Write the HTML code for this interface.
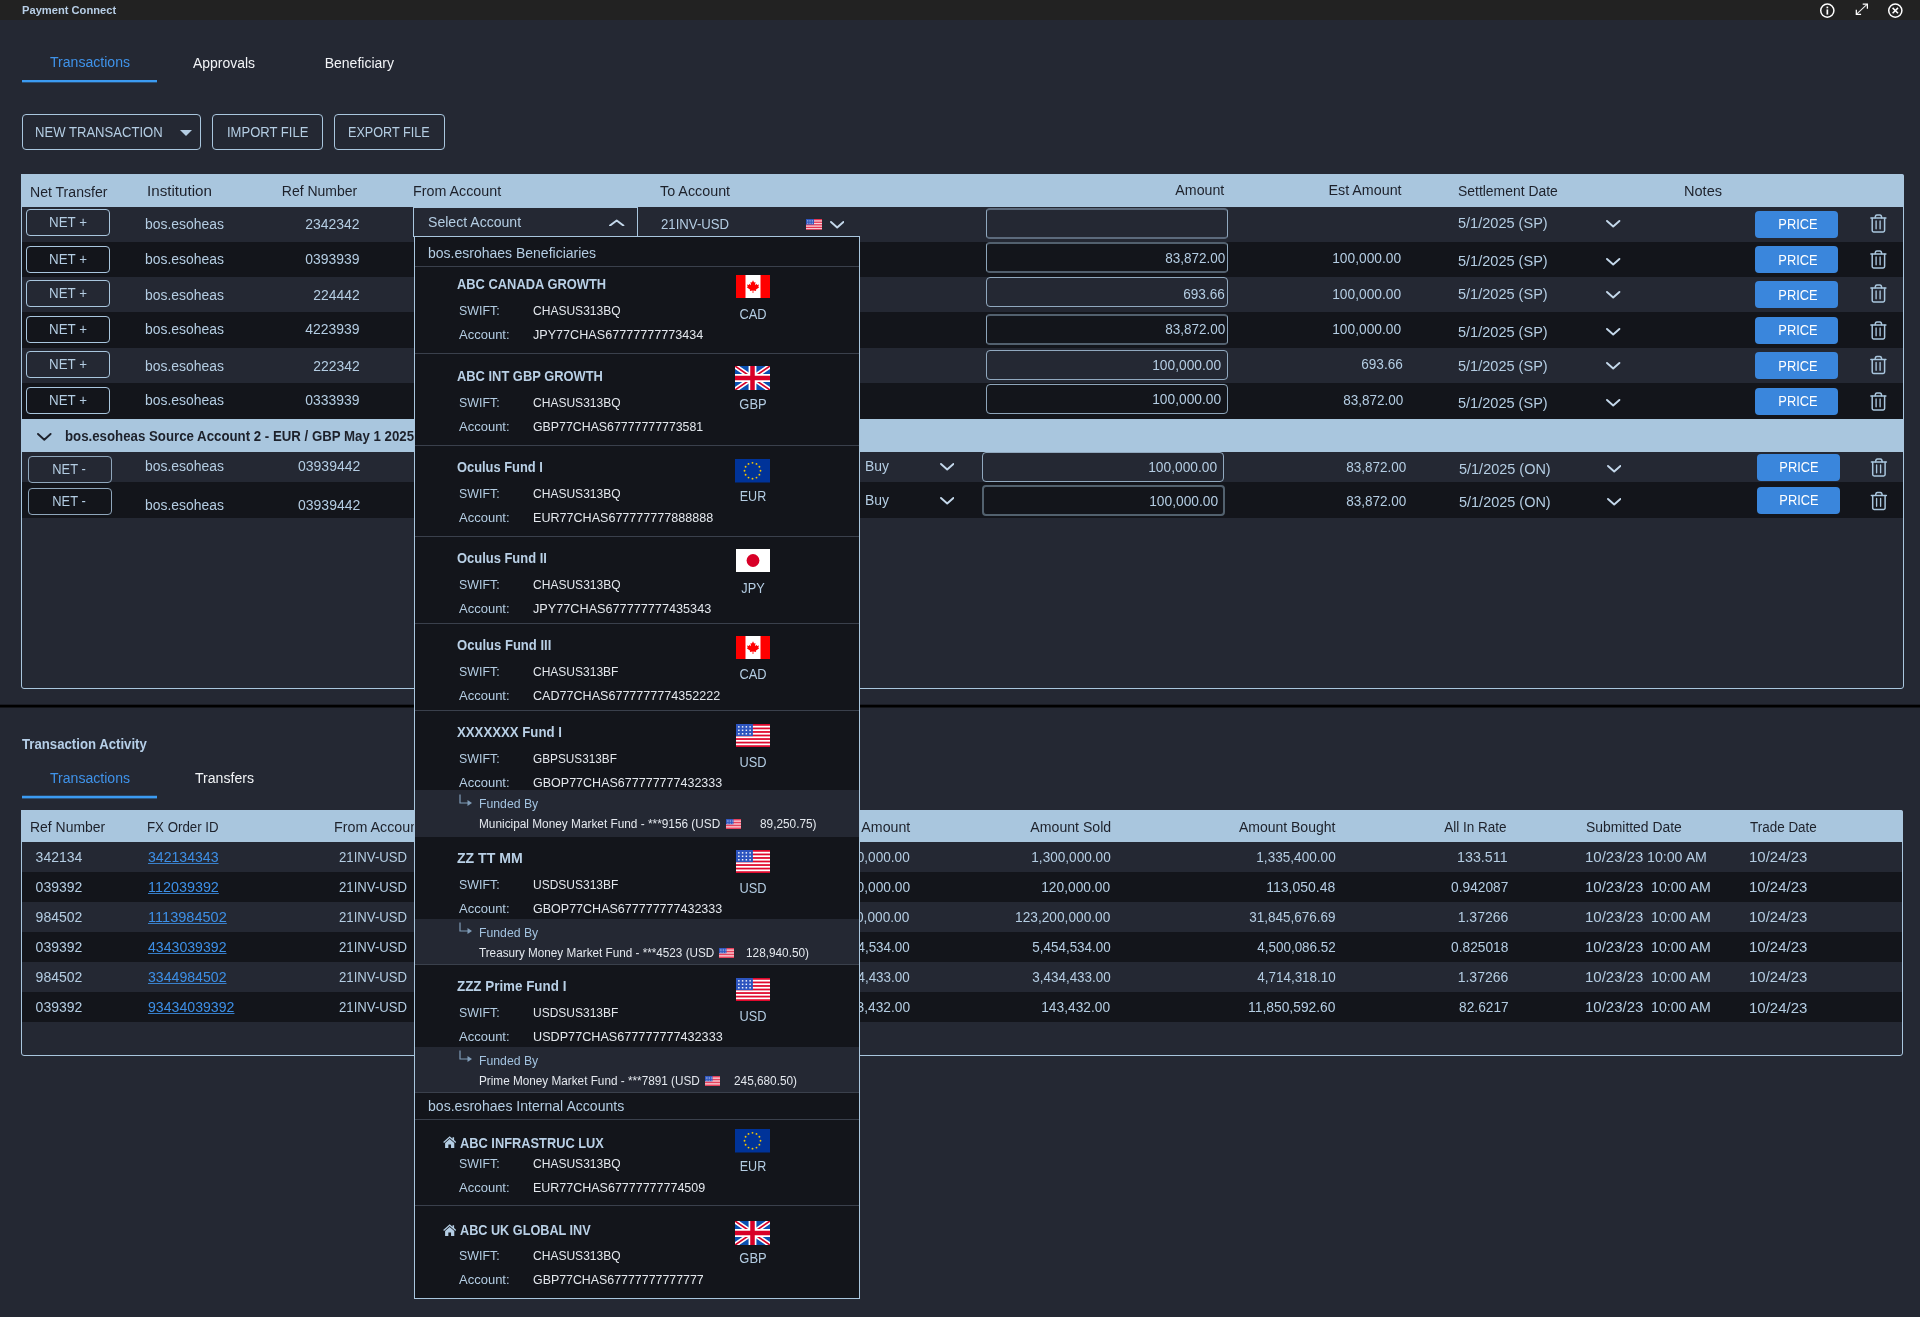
<!DOCTYPE html>
<html lang="en">
<head>
<meta charset="utf-8">
<title>Payment Connect</title>
<style>
html,body{margin:0;padding:0;}
body{width:1920px;height:1317px;overflow:hidden;background:#242833;position:relative;
font-family:"Liberation Sans",sans-serif;}
#app{position:absolute;left:0;top:0;width:1920px;height:1317px;will-change:transform;}
.b{position:absolute;display:block;box-sizing:border-box;}
.t{position:absolute;white-space:nowrap;display:block;}
a.t{cursor:pointer;}
</style>
</head>
<body>
<div id="app">
<div class="b" style="left:0px;top:0px;width:1920px;height:20px;background:#222222;"></div>
<span class="t" style="top:2px;font-size:10.5px;line-height:16px;color:#b7cee6;font-weight:bold;left:21.5px;transform:scaleX(1.0618);transform-origin:left center;">Payment Connect</span>
<svg class="b" style="left:1819px;top:2px" width="17" height="17" viewBox="0 0 17 17"><circle cx="8.3" cy="8.6" r="6.6" fill="none" stroke="#fff" stroke-width="1.5"/><rect x="7.5" y="7.4" width="1.7" height="5.2" fill="#fff"/><rect x="7.5" y="4.6" width="1.7" height="1.7" fill="#fff"/></svg>
<svg class="b" style="left:1854.5px;top:2.6px" width="13.8" height="12.6" viewBox="0 0 15 14"><path d="M1.6 12.4 L13.2 1.6" stroke="#fff" stroke-width="1.15" stroke-opacity="0.92" fill="none"/><path d="M8.4 1.3 H13.6 V6.4" stroke="#fff" stroke-width="1.4" fill="none"/><path d="M1.3 7.6 V12.7 H6.6" stroke="#fff" stroke-width="1.4" fill="none"/></svg>
<svg class="b" style="left:1887px;top:2px" width="17" height="17" viewBox="0 0 17 17"><circle cx="8.3" cy="8.6" r="6.6" fill="none" stroke="#fff" stroke-width="1.5"/><path d="M5.6 5.9 L11 11.3 M11 5.9 L5.6 11.3" stroke="#fff" stroke-width="1.5" fill="none"/></svg>
<span class="t" style="top:52px;font-size:14px;line-height:20px;color:#3f93ea;left:50px;transform:scaleX(1.0047);transform-origin:left center;">Transactions</span>
<div class="b" style="left:22px;top:80px;width:135px;height:2px;background:#3b9bf2;"></div>
<div class="b" style="left:22px;top:82px;width:135px;height:1px;background:rgba(59,155,242,0.35);"></div>
<span class="t" style="top:53px;font-size:14px;line-height:20px;color:#f2f4f7;left:193px;transform:scaleX(0.9959);transform-origin:left center;">Approvals</span>
<span class="t" style="top:53px;font-size:14px;line-height:20px;color:#f2f4f7;left:324.7px;">Beneficiary</span>
<div class="b" style="left:22px;top:114px;width:179px;height:36px;border:1px solid #a9c6de;border-radius:4px;"></div>
<span class="t" style="top:122px;font-size:14px;line-height:20px;color:#b4cde3;left:34.87px;transform:scaleX(0.9349);transform-origin:left center;">NEW TRANSACTION</span>
<svg class="b" style="left:180px;top:130px" width="12" height="6" viewBox="0 0 12 6"><path d="M0 0 H12 L6 6 Z" fill="#b4cde3"/></svg>
<div class="b" style="left:212px;top:114px;width:111px;height:36px;border:1px solid #a9c6de;border-radius:4px;"></div>
<span class="t" style="top:122px;font-size:14px;line-height:20px;color:#b4cde3;left:226.77px;transform:scaleX(0.9316);transform-origin:left center;">IMPORT FILE</span>
<div class="b" style="left:334px;top:114px;width:111px;height:36px;border:1px solid #a9c6de;border-radius:4px;"></div>
<span class="t" style="top:122px;font-size:14px;line-height:20px;color:#b4cde3;left:348.4px;transform:scaleX(0.9024);transform-origin:left center;">EXPORT FILE</span>
<div class="b" style="left:21px;top:174px;width:1883px;height:515px;border:1px solid #a9c6de;border-radius:3px;box-sizing:border-box;"></div>
<div class="b" style="left:21px;top:174px;width:1883px;height:33px;background:#a9c6de;border-radius:0 2px 0 0;"></div>
<span class="t" style="top:182px;font-size:14px;line-height:20px;color:#1d212b;left:29.8px;transform:scaleX(1.005);transform-origin:left center;">Net Transfer</span>
<span class="t" style="top:181px;font-size:14px;line-height:20px;color:#1d212b;left:146.72px;transform:scaleX(1.0836);transform-origin:left center;">Institution</span>
<span class="t" style="top:181px;font-size:14px;line-height:20px;color:#1d212b;left:281.8px;">Ref Number</span>
<span class="t" style="top:181px;font-size:14px;line-height:20px;color:#1d212b;left:412.78px;transform:scaleX(1.0203);transform-origin:left center;">From Account</span>
<span class="t" style="top:181px;font-size:14px;line-height:20px;color:#1d212b;left:660px;transform:scaleX(1.0235);transform-origin:left center;">To Account</span>
<span class="t" style="top:180px;font-size:14px;line-height:20px;color:#1d212b;right:696.11px;transform:scaleX(1.0133);transform-origin:right center;">Amount</span>
<span class="t" style="top:180px;font-size:14px;line-height:20px;color:#1d212b;right:518.11px;transform:scaleX(1.0213);transform-origin:right center;">Est Amount</span>
<span class="t" style="top:181px;font-size:14px;line-height:20px;color:#1d212b;left:1458px;transform:scaleX(0.994);transform-origin:left center;">Settlement Date</span>
<span class="t" style="top:181px;font-size:14px;line-height:20px;color:#1d212b;left:1683.96px;transform:scaleX(1.0401);transform-origin:left center;">Notes</span>
<div class="b" style="left:22px;top:207px;width:1881px;height:35px;background:#242833;"></div>
<div class="b" style="left:22px;top:242px;width:1881px;height:35px;background:#13151b;"></div>
<div class="b" style="left:22px;top:277px;width:1881px;height:35px;background:#242833;"></div>
<div class="b" style="left:22px;top:312px;width:1881px;height:36px;background:#13151b;"></div>
<div class="b" style="left:22px;top:348px;width:1881px;height:35px;background:#242833;"></div>
<div class="b" style="left:22px;top:383px;width:1881px;height:36px;background:#13151b;"></div>
<div class="b" style="left:22px;top:419px;width:1882px;height:33px;background:#a9c6de;"></div>
<svg class="b" style="left:37.4px;top:432.6px" width="14.6" height="8.2" viewBox="0 0 14.6 8.2"><path d="M1 1 L7.3 6.7 L13.6 1" fill="none" stroke="#1d212b" stroke-width="1.9" stroke-linecap="round" stroke-linejoin="round"/></svg>
<span class="t" style="top:426px;font-size:14px;line-height:20px;color:#1d212b;font-weight:bold;left:65px;transform:scaleX(0.9465);transform-origin:left center;">bos.esoheas Source Account 2 - EUR / GBP May 1 2025</span>
<div class="b" style="left:22px;top:452px;width:1881px;height:30px;background:#242833;"></div>
<div class="b" style="left:22px;top:482px;width:1881px;height:36px;background:#13151b;"></div>
<div class="b" style="left:26px;top:208.5px;width:84px;height:27px;border:1px solid #a9c6de;border-radius:4px;box-sizing:border-box;"></div>
<span class="t" style="top:212px;font-size:14px;line-height:20px;color:#b4cde3;left:-32.39px;width:200px;text-align:center;transform:scaleX(0.9514);transform-origin:center center;">NET +</span>
<span class="t" style="top:214px;font-size:14px;line-height:20px;color:#b4cde3;left:144.5px;transform:scaleX(0.9951);transform-origin:left center;">bos.esoheas</span>
<span class="t" style="top:214px;font-size:14px;line-height:20px;color:#b4cde3;right:1560.21px;transform:scaleX(0.9951);transform-origin:right center;">2342342</span>
<div class="b" style="left:986px;top:208px;width:242px;height:31px;border-top:2px solid rgba(169,198,222,0.4264);border-bottom:2px solid rgba(169,198,222,0.4264);border-left:1px solid rgba(169,198,222,0.82);border-right:1px solid rgba(169,198,222,0.82);border-radius:4px;"></div>
<span class="t" style="top:213px;font-size:14px;line-height:20px;color:#b4cde3;left:1458px;transform:scaleX(1.0382);transform-origin:left center;">5/1/2025 (SP)</span>
<svg class="b" style="left:1606.3px;top:220px" width="14.4" height="8" viewBox="0 0 14.4 8"><path d="M1 1 L7.2 6.5 L13.4 1" fill="none" stroke="#c4d8eb" stroke-width="1.9" stroke-linecap="round" stroke-linejoin="round"/></svg>
<div class="b" style="left:1755.4px;top:210.5px;width:83px;height:27px;background:#3a86dc;border-radius:4px;"></div>
<span class="t" style="top:214px;font-size:14px;line-height:20px;color:#ffffff;left:1698.2px;width:200px;text-align:center;transform:scaleX(0.9168);transform-origin:center center;">PRICE</span>
<svg class="b" style="left:1869px;top:213px" width="18" height="20" viewBox="0 0 18 20"><g transform="translate(0.90 0.95)" fill="none" stroke="#a9c6de" stroke-width="1.5" stroke-linejoin="round" stroke-linecap="round"><path d="M1 4 H16"/><path d="M5.2 3.8 C5.4 1.6 5.9 1.1 7 1.1 H10 C11.1 1.1 11.6 1.6 11.8 3.8"/><path d="M2.3 4.2 V16.6 Q2.3 18 3.7 18 H13.3 Q14.7 18 14.7 16.6 V4.2"/><path d="M6.2 7 V14.8 M10.2 7 V14.8" stroke-width="1.35"/></g></svg>
<div class="b" style="left:26px;top:245.5px;width:84px;height:27px;border:1px solid #a9c6de;border-radius:4px;box-sizing:border-box;"></div>
<span class="t" style="top:249px;font-size:14px;line-height:20px;color:#b4cde3;left:-32.39px;width:200px;text-align:center;transform:scaleX(0.9514);transform-origin:center center;">NET +</span>
<span class="t" style="top:248.5px;font-size:14px;line-height:20px;color:#b4cde3;left:144.5px;transform:scaleX(0.9951);transform-origin:left center;">bos.esoheas</span>
<span class="t" style="top:248.5px;font-size:14px;line-height:20px;color:#b4cde3;right:1560.21px;transform:scaleX(0.9951);transform-origin:right center;">0393939</span>
<div class="b" style="left:986px;top:242px;width:242px;height:31px;border-top:2px solid rgba(169,198,222,0.4264);border-bottom:2px solid rgba(169,198,222,0.4264);border-left:1px solid rgba(169,198,222,0.82);border-right:1px solid rgba(169,198,222,0.82);border-radius:4px;"></div>
<span class="t" style="top:248px;font-size:14px;line-height:20px;color:#b4cde3;right:694.7px;transform:scaleX(0.9649);transform-origin:right center;">83,872.00</span>
<span class="t" style="top:248px;font-size:14px;line-height:20px;color:#b4cde3;right:518.71px;transform:scaleX(0.9829);transform-origin:right center;">100,000.00</span>
<span class="t" style="top:251px;font-size:14px;line-height:20px;color:#b4cde3;left:1458px;transform:scaleX(1.0382);transform-origin:left center;">5/1/2025 (SP)</span>
<svg class="b" style="left:1606.3px;top:257.5px" width="14.4" height="8" viewBox="0 0 14.4 8"><path d="M1 1 L7.2 6.5 L13.4 1" fill="none" stroke="#c4d8eb" stroke-width="1.9" stroke-linecap="round" stroke-linejoin="round"/></svg>
<div class="b" style="left:1755.4px;top:246px;width:83px;height:27px;background:#3a86dc;border-radius:4px;"></div>
<span class="t" style="top:249.5px;font-size:14px;line-height:20px;color:#ffffff;left:1698.2px;width:200px;text-align:center;transform:scaleX(0.9168);transform-origin:center center;">PRICE</span>
<svg class="b" style="left:1869px;top:249px" width="18" height="20" viewBox="0 0 18 20"><g transform="translate(0.90 0.95)" fill="none" stroke="#a9c6de" stroke-width="1.5" stroke-linejoin="round" stroke-linecap="round"><path d="M1 4 H16"/><path d="M5.2 3.8 C5.4 1.6 5.9 1.1 7 1.1 H10 C11.1 1.1 11.6 1.6 11.8 3.8"/><path d="M2.3 4.2 V16.6 Q2.3 18 3.7 18 H13.3 Q14.7 18 14.7 16.6 V4.2"/><path d="M6.2 7 V14.8 M10.2 7 V14.8" stroke-width="1.35"/></g></svg>
<div class="b" style="left:26px;top:279.5px;width:84px;height:27px;border:1px solid #a9c6de;border-radius:4px;box-sizing:border-box;"></div>
<span class="t" style="top:283px;font-size:14px;line-height:20px;color:#b4cde3;left:-32.39px;width:200px;text-align:center;transform:scaleX(0.9514);transform-origin:center center;">NET +</span>
<span class="t" style="top:284.5px;font-size:14px;line-height:20px;color:#b4cde3;left:144.5px;transform:scaleX(0.9951);transform-origin:left center;">bos.esoheas</span>
<span class="t" style="top:284.5px;font-size:14px;line-height:20px;color:#b4cde3;right:1560.21px;transform:scaleX(0.993);transform-origin:right center;">224442</span>
<div class="b" style="left:986px;top:277px;width:242px;height:30px;border-top:1px solid rgba(169,198,222,0.82);border-bottom:1px solid rgba(169,198,222,0.82);border-left:1px solid rgba(169,198,222,0.82);border-right:1px solid rgba(169,198,222,0.82);border-radius:4px;"></div>
<span class="t" style="top:284px;font-size:14px;line-height:20px;color:#b4cde3;right:694.7px;transform:scaleX(0.9713);transform-origin:right center;">693.66</span>
<span class="t" style="top:283.5px;font-size:14px;line-height:20px;color:#b4cde3;right:518.71px;transform:scaleX(0.9829);transform-origin:right center;">100,000.00</span>
<span class="t" style="top:284px;font-size:14px;line-height:20px;color:#b4cde3;left:1458px;transform:scaleX(1.0382);transform-origin:left center;">5/1/2025 (SP)</span>
<svg class="b" style="left:1606.3px;top:290.5px" width="14.4" height="8" viewBox="0 0 14.4 8"><path d="M1 1 L7.2 6.5 L13.4 1" fill="none" stroke="#c4d8eb" stroke-width="1.9" stroke-linecap="round" stroke-linejoin="round"/></svg>
<div class="b" style="left:1755.4px;top:281px;width:83px;height:27px;background:#3a86dc;border-radius:4px;"></div>
<span class="t" style="top:284.5px;font-size:14px;line-height:20px;color:#ffffff;left:1698.2px;width:200px;text-align:center;transform:scaleX(0.9168);transform-origin:center center;">PRICE</span>
<svg class="b" style="left:1869px;top:283px" width="18" height="20" viewBox="0 0 18 20"><g transform="translate(0.90 0.95)" fill="none" stroke="#a9c6de" stroke-width="1.5" stroke-linejoin="round" stroke-linecap="round"><path d="M1 4 H16"/><path d="M5.2 3.8 C5.4 1.6 5.9 1.1 7 1.1 H10 C11.1 1.1 11.6 1.6 11.8 3.8"/><path d="M2.3 4.2 V16.6 Q2.3 18 3.7 18 H13.3 Q14.7 18 14.7 16.6 V4.2"/><path d="M6.2 7 V14.8 M10.2 7 V14.8" stroke-width="1.35"/></g></svg>
<div class="b" style="left:26px;top:316px;width:84px;height:27px;border:1px solid #a9c6de;border-radius:4px;box-sizing:border-box;"></div>
<span class="t" style="top:319px;font-size:14px;line-height:20px;color:#b4cde3;left:-32.39px;width:200px;text-align:center;transform:scaleX(0.9514);transform-origin:center center;">NET +</span>
<span class="t" style="top:319px;font-size:14px;line-height:20px;color:#b4cde3;left:144.5px;transform:scaleX(0.9951);transform-origin:left center;">bos.esoheas</span>
<span class="t" style="top:319px;font-size:14px;line-height:20px;color:#b4cde3;right:1560.21px;transform:scaleX(0.9951);transform-origin:right center;">4223939</span>
<div class="b" style="left:986px;top:314px;width:242px;height:31px;border-top:2px solid rgba(169,198,222,0.4264);border-bottom:2px solid rgba(169,198,222,0.4264);border-left:1px solid rgba(169,198,222,0.82);border-right:1px solid rgba(169,198,222,0.82);border-radius:4px;"></div>
<span class="t" style="top:319px;font-size:14px;line-height:20px;color:#b4cde3;right:694.7px;transform:scaleX(0.9649);transform-origin:right center;">83,872.00</span>
<span class="t" style="top:319px;font-size:14px;line-height:20px;color:#b4cde3;right:518.71px;transform:scaleX(0.9829);transform-origin:right center;">100,000.00</span>
<span class="t" style="top:321.5px;font-size:14px;line-height:20px;color:#b4cde3;left:1458px;transform:scaleX(1.0382);transform-origin:left center;">5/1/2025 (SP)</span>
<svg class="b" style="left:1606.3px;top:328px" width="14.4" height="8" viewBox="0 0 14.4 8"><path d="M1 1 L7.2 6.5 L13.4 1" fill="none" stroke="#c4d8eb" stroke-width="1.9" stroke-linecap="round" stroke-linejoin="round"/></svg>
<div class="b" style="left:1755.4px;top:316.5px;width:83px;height:27px;background:#3a86dc;border-radius:4px;"></div>
<span class="t" style="top:320px;font-size:14px;line-height:20px;color:#ffffff;left:1698.2px;width:200px;text-align:center;transform:scaleX(0.9168);transform-origin:center center;">PRICE</span>
<svg class="b" style="left:1869px;top:320px" width="18" height="20" viewBox="0 0 18 20"><g transform="translate(0.90 0.95)" fill="none" stroke="#a9c6de" stroke-width="1.5" stroke-linejoin="round" stroke-linecap="round"><path d="M1 4 H16"/><path d="M5.2 3.8 C5.4 1.6 5.9 1.1 7 1.1 H10 C11.1 1.1 11.6 1.6 11.8 3.8"/><path d="M2.3 4.2 V16.6 Q2.3 18 3.7 18 H13.3 Q14.7 18 14.7 16.6 V4.2"/><path d="M6.2 7 V14.8 M10.2 7 V14.8" stroke-width="1.35"/></g></svg>
<div class="b" style="left:26px;top:350.5px;width:84px;height:27px;border:1px solid #a9c6de;border-radius:4px;box-sizing:border-box;"></div>
<span class="t" style="top:354px;font-size:14px;line-height:20px;color:#b4cde3;left:-32.39px;width:200px;text-align:center;transform:scaleX(0.9514);transform-origin:center center;">NET +</span>
<span class="t" style="top:355.5px;font-size:14px;line-height:20px;color:#b4cde3;left:144.5px;transform:scaleX(0.9951);transform-origin:left center;">bos.esoheas</span>
<span class="t" style="top:355.5px;font-size:14px;line-height:20px;color:#b4cde3;right:1560.21px;transform:scaleX(0.993);transform-origin:right center;">222342</span>
<div class="b" style="left:986px;top:350px;width:242px;height:30px;border-top:1px solid rgba(169,198,222,0.82);border-bottom:1px solid rgba(169,198,222,0.82);border-left:1px solid rgba(169,198,222,0.82);border-right:1px solid rgba(169,198,222,0.82);border-radius:4px;"></div>
<span class="t" style="top:354.5px;font-size:14px;line-height:20px;color:#b4cde3;right:698.71px;transform:scaleX(0.9829);transform-origin:right center;">100,000.00</span>
<span class="t" style="top:354px;font-size:14px;line-height:20px;color:#b4cde3;right:517.2px;transform:scaleX(0.9713);transform-origin:right center;">693.66</span>
<span class="t" style="top:355.5px;font-size:14px;line-height:20px;color:#b4cde3;left:1458px;transform:scaleX(1.0382);transform-origin:left center;">5/1/2025 (SP)</span>
<svg class="b" style="left:1606.3px;top:362px" width="14.4" height="8" viewBox="0 0 14.4 8"><path d="M1 1 L7.2 6.5 L13.4 1" fill="none" stroke="#c4d8eb" stroke-width="1.9" stroke-linecap="round" stroke-linejoin="round"/></svg>
<div class="b" style="left:1755.4px;top:352px;width:83px;height:27px;background:#3a86dc;border-radius:4px;"></div>
<span class="t" style="top:355.5px;font-size:14px;line-height:20px;color:#ffffff;left:1698.2px;width:200px;text-align:center;transform:scaleX(0.9168);transform-origin:center center;">PRICE</span>
<svg class="b" style="left:1869px;top:355px" width="18" height="20" viewBox="0 0 18 20"><g transform="translate(0.90 0.45)" fill="none" stroke="#a9c6de" stroke-width="1.5" stroke-linejoin="round" stroke-linecap="round"><path d="M1 4 H16"/><path d="M5.2 3.8 C5.4 1.6 5.9 1.1 7 1.1 H10 C11.1 1.1 11.6 1.6 11.8 3.8"/><path d="M2.3 4.2 V16.6 Q2.3 18 3.7 18 H13.3 Q14.7 18 14.7 16.6 V4.2"/><path d="M6.2 7 V14.8 M10.2 7 V14.8" stroke-width="1.35"/></g></svg>
<div class="b" style="left:26px;top:387px;width:84px;height:27px;border:1px solid #a9c6de;border-radius:4px;box-sizing:border-box;"></div>
<span class="t" style="top:390px;font-size:14px;line-height:20px;color:#b4cde3;left:-32.39px;width:200px;text-align:center;transform:scaleX(0.9514);transform-origin:center center;">NET +</span>
<span class="t" style="top:390px;font-size:14px;line-height:20px;color:#b4cde3;left:144.5px;transform:scaleX(0.9951);transform-origin:left center;">bos.esoheas</span>
<span class="t" style="top:390px;font-size:14px;line-height:20px;color:#b4cde3;right:1560.21px;transform:scaleX(0.9951);transform-origin:right center;">0333939</span>
<div class="b" style="left:986px;top:384px;width:242px;height:30px;border-top:1px solid rgba(169,198,222,0.82);border-bottom:1px solid rgba(169,198,222,0.82);border-left:1px solid rgba(169,198,222,0.82);border-right:1px solid rgba(169,198,222,0.82);border-radius:4px;"></div>
<span class="t" style="top:388.5px;font-size:14px;line-height:20px;color:#b4cde3;right:698.71px;transform:scaleX(0.9829);transform-origin:right center;">100,000.00</span>
<span class="t" style="top:390px;font-size:14px;line-height:20px;color:#b4cde3;right:517.2px;transform:scaleX(0.9649);transform-origin:right center;">83,872.00</span>
<span class="t" style="top:392.5px;font-size:14px;line-height:20px;color:#b4cde3;left:1458px;transform:scaleX(1.0382);transform-origin:left center;">5/1/2025 (SP)</span>
<svg class="b" style="left:1606.3px;top:399px" width="14.4" height="8" viewBox="0 0 14.4 8"><path d="M1 1 L7.2 6.5 L13.4 1" fill="none" stroke="#c4d8eb" stroke-width="1.9" stroke-linecap="round" stroke-linejoin="round"/></svg>
<div class="b" style="left:1755.4px;top:387.5px;width:83px;height:27px;background:#3a86dc;border-radius:4px;"></div>
<span class="t" style="top:391px;font-size:14px;line-height:20px;color:#ffffff;left:1698.2px;width:200px;text-align:center;transform:scaleX(0.9168);transform-origin:center center;">PRICE</span>
<svg class="b" style="left:1869px;top:391px" width="18" height="20" viewBox="0 0 18 20"><g transform="translate(0.90 0.95)" fill="none" stroke="#a9c6de" stroke-width="1.5" stroke-linejoin="round" stroke-linecap="round"><path d="M1 4 H16"/><path d="M5.2 3.8 C5.4 1.6 5.9 1.1 7 1.1 H10 C11.1 1.1 11.6 1.6 11.8 3.8"/><path d="M2.3 4.2 V16.6 Q2.3 18 3.7 18 H13.3 Q14.7 18 14.7 16.6 V4.2"/><path d="M6.2 7 V14.8 M10.2 7 V14.8" stroke-width="1.35"/></g></svg>
<div class="b" style="left:413px;top:207px;width:225px;height:30px;border:1px solid #a9c6de;box-sizing:border-box;"></div>
<span class="t" style="top:212px;font-size:14px;line-height:20px;color:#b4cde3;left:427.5px;transform:scaleX(1.0054);transform-origin:left center;">Select Account</span>
<svg class="b" style="left:609.3px;top:218.7px" width="15.4" height="7.6" viewBox="0 0 15.4 7.6"><path d="M1 6.6 L7.7 1.5 L14.4 6.6" fill="none" stroke="#c4d8eb" stroke-width="1.9" stroke-linecap="round" stroke-linejoin="round"/></svg>
<span class="t" style="top:214px;font-size:14px;line-height:20px;color:#b4cde3;left:661px;transform:scaleX(0.9412);transform-origin:left center;">21INV-USD</span>
<svg class="b" style="left:806px;top:219px" width="16" height="10.6" preserveAspectRatio="none" viewBox="0 0 34 23"><rect width="34" height="23" fill="#fff"/><rect y="0.000" width="34" height="1.769" fill="#e0082c"/><rect y="3.538" width="34" height="1.769" fill="#e0082c"/><rect y="7.077" width="34" height="1.769" fill="#e0082c"/><rect y="10.615" width="34" height="1.769" fill="#e0082c"/><rect y="14.154" width="34" height="1.769" fill="#e0082c"/><rect y="17.692" width="34" height="1.769" fill="#e0082c"/><rect y="21.231" width="34" height="1.769" fill="#e0082c"/><rect width="16.9" height="12.1" fill="#2c54bf"/><rect x="2.10" y="2.10" width="1.5" height="1.5" fill="#fff" fill-opacity="0.92"/><rect x="5.85" y="2.10" width="1.5" height="1.5" fill="#fff" fill-opacity="0.92"/><rect x="9.60" y="2.10" width="1.5" height="1.5" fill="#fff" fill-opacity="0.92"/><rect x="13.35" y="2.10" width="1.5" height="1.5" fill="#fff" fill-opacity="0.92"/><rect x="2.10" y="5.55" width="1.5" height="1.5" fill="#fff" fill-opacity="0.92"/><rect x="5.85" y="5.55" width="1.5" height="1.5" fill="#fff" fill-opacity="0.92"/><rect x="9.60" y="5.55" width="1.5" height="1.5" fill="#fff" fill-opacity="0.92"/><rect x="13.35" y="5.55" width="1.5" height="1.5" fill="#fff" fill-opacity="0.92"/><rect x="2.10" y="9.00" width="1.5" height="1.5" fill="#fff" fill-opacity="0.92"/><rect x="5.85" y="9.00" width="1.5" height="1.5" fill="#fff" fill-opacity="0.92"/><rect x="9.60" y="9.00" width="1.5" height="1.5" fill="#fff" fill-opacity="0.92"/><rect x="13.35" y="9.00" width="1.5" height="1.5" fill="#fff" fill-opacity="0.92"/></svg>
<svg class="b" style="left:829.8px;top:220.5px" width="14.4" height="8" viewBox="0 0 14.4 8"><path d="M1 1 L7.2 6.5 L13.4 1" fill="none" stroke="#c4d8eb" stroke-width="1.9" stroke-linecap="round" stroke-linejoin="round"/></svg>
<div class="b" style="left:27.5px;top:456px;width:84px;height:27px;border:1px solid #8fa6bb;border-radius:4px;box-sizing:border-box;"></div>
<span class="t" style="top:459px;font-size:14px;line-height:20px;color:#b4cde3;left:-31.12px;width:200px;text-align:center;transform:scaleX(0.9195);transform-origin:center center;">NET -</span>
<span class="t" style="top:456px;font-size:14px;line-height:20px;color:#b4cde3;left:145px;transform:scaleX(0.9951);transform-origin:left center;">bos.esoheas</span>
<span class="t" style="top:456px;font-size:14px;line-height:20px;color:#b4cde3;right:1559.71px;">03939442</span>
<span class="t" style="top:456px;font-size:14px;line-height:20px;color:#b4cde3;left:865.01px;transform:scaleX(0.9946);transform-origin:left center;">Buy</span>
<svg class="b" style="left:939.8px;top:463px" width="14.4" height="8" viewBox="0 0 14.4 8"><path d="M1 1 L7.2 6.5 L13.4 1" fill="none" stroke="#c4d8eb" stroke-width="1.9" stroke-linecap="round" stroke-linejoin="round"/></svg>
<div class="b" style="left:982px;top:452px;width:242px;height:30px;border-top:1px solid rgba(169,198,222,0.82);border-bottom:1px solid rgba(169,198,222,0.82);border-left:1px solid rgba(169,198,222,0.82);border-right:1px solid rgba(169,198,222,0.82);border-radius:4px;"></div>
<span class="t" style="top:457px;font-size:14px;line-height:20px;color:#b4cde3;right:702.71px;transform:scaleX(0.9829);transform-origin:right center;">100,000.00</span>
<span class="t" style="top:457px;font-size:14px;line-height:20px;color:#b4cde3;right:514.2px;transform:scaleX(0.9649);transform-origin:right center;">83,872.00</span>
<span class="t" style="top:458.5px;font-size:14px;line-height:20px;color:#b4cde3;left:1459px;transform:scaleX(1.0335);transform-origin:left center;">5/1/2025 (ON)</span>
<svg class="b" style="left:1606.8px;top:464.5px" width="14.4" height="8" viewBox="0 0 14.4 8"><path d="M1 1 L7.2 6.5 L13.4 1" fill="none" stroke="#c4d8eb" stroke-width="1.9" stroke-linecap="round" stroke-linejoin="round"/></svg>
<div class="b" style="left:1757px;top:453.5px;width:83px;height:27px;background:#3a86dc;border-radius:4px;"></div>
<span class="t" style="top:457px;font-size:14px;line-height:20px;color:#ffffff;left:1699.2px;width:200px;text-align:center;transform:scaleX(0.9168);transform-origin:center center;">PRICE</span>
<svg class="b" style="left:1870px;top:457px" width="18" height="20" viewBox="0 0 18 20"><g transform="translate(0.40 0.95)" fill="none" stroke="#a9c6de" stroke-width="1.5" stroke-linejoin="round" stroke-linecap="round"><path d="M1 4 H16"/><path d="M5.2 3.8 C5.4 1.6 5.9 1.1 7 1.1 H10 C11.1 1.1 11.6 1.6 11.8 3.8"/><path d="M2.3 4.2 V16.6 Q2.3 18 3.7 18 H13.3 Q14.7 18 14.7 16.6 V4.2"/><path d="M6.2 7 V14.8 M10.2 7 V14.8" stroke-width="1.35"/></g></svg>
<div class="b" style="left:27.5px;top:487.5px;width:84px;height:27px;border:1px solid #8fa6bb;border-radius:4px;box-sizing:border-box;"></div>
<span class="t" style="top:490.5px;font-size:14px;line-height:20px;color:#b4cde3;left:-31.12px;width:200px;text-align:center;transform:scaleX(0.9195);transform-origin:center center;">NET -</span>
<span class="t" style="top:494.5px;font-size:14px;line-height:20px;color:#b4cde3;left:145px;transform:scaleX(0.9951);transform-origin:left center;">bos.esoheas</span>
<span class="t" style="top:494.5px;font-size:14px;line-height:20px;color:#b4cde3;right:1559.71px;">03939442</span>
<span class="t" style="top:490px;font-size:14px;line-height:20px;color:#b4cde3;left:865.01px;transform:scaleX(0.9946);transform-origin:left center;">Buy</span>
<svg class="b" style="left:939.8px;top:496.5px" width="14.4" height="8" viewBox="0 0 14.4 8"><path d="M1 1 L7.2 6.5 L13.4 1" fill="none" stroke="#c4d8eb" stroke-width="1.9" stroke-linecap="round" stroke-linejoin="round"/></svg>
<div class="b" style="left:982px;top:485px;width:243px;height:31px;border-top:2px solid rgba(169,198,222,0.4264);border-bottom:2px solid rgba(169,198,222,0.4264);border-left:2px solid rgba(169,198,222,0.4264);border-right:2px solid rgba(169,198,222,0.4264);border-radius:4px;"></div>
<span class="t" style="top:490.5px;font-size:14px;line-height:20px;color:#b4cde3;right:702.21px;transform:scaleX(0.9829);transform-origin:right center;">100,000.00</span>
<span class="t" style="top:490.5px;font-size:14px;line-height:20px;color:#b4cde3;right:513.7px;transform:scaleX(0.9649);transform-origin:right center;">83,872.00</span>
<span class="t" style="top:492px;font-size:14px;line-height:20px;color:#b4cde3;left:1459px;transform:scaleX(1.0335);transform-origin:left center;">5/1/2025 (ON)</span>
<svg class="b" style="left:1606.8px;top:498px" width="14.4" height="8" viewBox="0 0 14.4 8"><path d="M1 1 L7.2 6.5 L13.4 1" fill="none" stroke="#c4d8eb" stroke-width="1.9" stroke-linecap="round" stroke-linejoin="round"/></svg>
<div class="b" style="left:1757px;top:486.5px;width:83px;height:27px;background:#3a86dc;border-radius:4px;"></div>
<span class="t" style="top:490px;font-size:14px;line-height:20px;color:#ffffff;left:1699.2px;width:200px;text-align:center;transform:scaleX(0.9168);transform-origin:center center;">PRICE</span>
<svg class="b" style="left:1870px;top:491px" width="18" height="20" viewBox="0 0 18 20"><g transform="translate(0.40 0.45)" fill="none" stroke="#a9c6de" stroke-width="1.5" stroke-linejoin="round" stroke-linecap="round"><path d="M1 4 H16"/><path d="M5.2 3.8 C5.4 1.6 5.9 1.1 7 1.1 H10 C11.1 1.1 11.6 1.6 11.8 3.8"/><path d="M2.3 4.2 V16.6 Q2.3 18 3.7 18 H13.3 Q14.7 18 14.7 16.6 V4.2"/><path d="M6.2 7 V14.8 M10.2 7 V14.8" stroke-width="1.35"/></g></svg>
<div class="b" style="left:0px;top:704px;width:1920px;height:1px;background:rgba(0,0,0,0.3);"></div>
<div class="b" style="left:0px;top:705px;width:1920px;height:2px;background:#000000;"></div>
<div class="b" style="left:0px;top:707px;width:1920px;height:1px;background:rgba(0,0,0,0.5);"></div>
<span class="t" style="top:734px;font-size:14px;line-height:20px;color:#b6cfe8;font-weight:bold;left:22.3px;transform:scaleX(0.9418);transform-origin:left center;">Transaction Activity</span>
<span class="t" style="top:768px;font-size:14px;line-height:20px;color:#3f93ea;left:50px;transform:scaleX(1.0047);transform-origin:left center;">Transactions</span>
<div class="b" style="left:22px;top:795px;width:135px;height:1px;background:rgba(59,155,242,0.25);"></div>
<div class="b" style="left:22px;top:796px;width:135px;height:2px;background:#3b9bf2;"></div>
<div class="b" style="left:22px;top:798px;width:135px;height:1px;background:rgba(59,155,242,0.4);"></div>
<span class="t" style="top:768px;font-size:14px;line-height:20px;color:#f2f4f7;left:195px;transform:scaleX(1.0067);transform-origin:left center;">Transfers</span>
<div class="b" style="left:21px;top:810px;width:1882px;height:246px;border:1px solid #a9c6de;border-radius:3px;box-sizing:border-box;"></div>
<div class="b" style="left:21px;top:810px;width:1882px;height:32px;background:#a9c6de;border-radius:0 2px 0 0;"></div>
<span class="t" style="top:816.5px;font-size:14px;line-height:20px;color:#1d212b;left:30px;transform:scaleX(0.9959);transform-origin:left center;">Ref Number</span>
<span class="t" style="top:816.5px;font-size:14px;line-height:20px;color:#1d212b;left:147.05px;transform:scaleX(0.9483);transform-origin:left center;">FX Order ID</span>
<span class="t" style="top:816.5px;font-size:14px;line-height:20px;color:#1d212b;left:333.98px;transform:scaleX(1.0203);transform-origin:left center;">From Account</span>
<span class="t" style="top:816.5px;font-size:14px;line-height:20px;color:#1d212b;left:520px;transform:scaleX(1.0235);transform-origin:left center;">To Account</span>
<span class="t" style="top:816.5px;font-size:14px;line-height:20px;color:#1d212b;left:689px;">Buy/Sell</span>
<span class="t" style="top:816.5px;font-size:14px;line-height:20px;color:#1d212b;right:1010.11px;transform:scaleX(1.0133);transform-origin:right center;">Amount</span>
<span class="t" style="top:816.5px;font-size:14px;line-height:20px;color:#1d212b;right:809.2px;transform:scaleX(1.0079);transform-origin:right center;">Amount Sold</span>
<span class="t" style="top:816.5px;font-size:14px;line-height:20px;color:#1d212b;right:584.61px;">Amount Bought</span>
<span class="t" style="top:816.5px;font-size:14px;line-height:20px;color:#1d212b;right:413.7px;transform:scaleX(0.9645);transform-origin:right center;">All In Rate</span>
<span class="t" style="top:816.5px;font-size:14px;line-height:20px;color:#1d212b;left:1585.5px;transform:scaleX(0.9927);transform-origin:left center;">Submitted Date</span>
<span class="t" style="top:816.5px;font-size:14px;line-height:20px;color:#1d212b;left:1750px;transform:scaleX(0.9609);transform-origin:left center;">Trade Date</span>
<div class="b" style="left:22px;top:842px;width:1880px;height:30px;background:#242833;"></div>
<span class="t" style="top:847px;font-size:14px;line-height:20px;color:#b4cde3;left:35.6px;">342134</span>
<a class="t" style="top:847px;font-size:14px;line-height:20px;color:#3d8fe6;left:148px;transform:scaleX(1.0066);transform-origin:left center;text-decoration:underline;text-underline-offset:0.5px;text-decoration-skip-ink:none;text-decoration-thickness:1px;text-decoration-color:rgba(61,143,230,0.85);">342134343</a>
<span class="t" style="top:847px;font-size:14px;line-height:20px;color:#b4cde3;left:339px;transform:scaleX(0.9412);transform-origin:left center;">21INV-USD</span>
<span class="t" style="top:847px;font-size:14px;line-height:20px;color:#b4cde3;left:520px;">22INV-EUR</span>
<span class="t" style="top:847px;font-size:14px;line-height:20px;color:#b4cde3;left:689px;">Buy</span>
<span class="t" style="top:847px;font-size:14px;line-height:20px;color:#b4cde3;right:1010.2px;transform:scaleX(0.9721);transform-origin:right center;">1,300,000.00</span>
<span class="t" style="top:847px;font-size:14px;line-height:20px;color:#b4cde3;right:809.7px;transform:scaleX(0.9721);transform-origin:right center;">1,300,000.00</span>
<span class="t" style="top:847px;font-size:14px;line-height:20px;color:#b4cde3;right:584.7px;transform:scaleX(0.9721);transform-origin:right center;">1,335,400.00</span>
<span class="t" style="top:847px;font-size:14px;line-height:20px;color:#b4cde3;right:412.21px;transform:scaleX(1.0188);transform-origin:right center;">133.511</span>
<span class="t" style="top:847px;font-size:14px;line-height:20px;color:#b4cde3;left:1585.23px;transform:scaleX(1.0706);transform-origin:left center;">10/23/23</span>
<span class="t" style="top:847px;font-size:14px;line-height:20px;color:#b4cde3;left:1647.39px;transform:scaleX(1.0127);transform-origin:left center;">10:00 AM</span>
<span class="t" style="top:847px;font-size:14px;line-height:20px;color:#b4cde3;left:1749.43px;transform:scaleX(1.0706);transform-origin:left center;">10/24/23</span>
<div class="b" style="left:22px;top:872px;width:1880px;height:30px;background:#13151b;"></div>
<span class="t" style="top:877px;font-size:14px;line-height:20px;color:#b4cde3;left:35.6px;">039392</span>
<a class="t" style="top:877px;font-size:14px;line-height:20px;color:#3d8fe6;left:147.67px;transform:scaleX(1.0264);transform-origin:left center;text-decoration:underline;text-underline-offset:0.5px;text-decoration-skip-ink:none;text-decoration-thickness:1px;text-decoration-color:rgba(61,143,230,0.85);">112039392</a>
<span class="t" style="top:877px;font-size:14px;line-height:20px;color:#b4cde3;left:339px;transform:scaleX(0.9412);transform-origin:left center;">21INV-USD</span>
<span class="t" style="top:877px;font-size:14px;line-height:20px;color:#b4cde3;left:520px;">22INV-EUR</span>
<span class="t" style="top:877px;font-size:14px;line-height:20px;color:#b4cde3;left:689px;">Buy</span>
<span class="t" style="top:877px;font-size:14px;line-height:20px;color:#b4cde3;right:1010.21px;transform:scaleX(0.9829);transform-origin:right center;">120,000.00</span>
<span class="t" style="top:877px;font-size:14px;line-height:20px;color:#b4cde3;right:809.71px;transform:scaleX(0.9829);transform-origin:right center;">120,000.00</span>
<span class="t" style="top:877px;font-size:14px;line-height:20px;color:#b4cde3;right:584.71px;">113,050.48</span>
<span class="t" style="top:877px;font-size:14px;line-height:20px;color:#b4cde3;right:411.71px;transform:scaleX(0.9811);transform-origin:right center;">0.942087</span>
<span class="t" style="top:877px;font-size:14px;line-height:20px;color:#b4cde3;left:1585.23px;transform:scaleX(1.0706);transform-origin:left center;">10/23/23</span>
<span class="t" style="top:877px;font-size:14px;line-height:20px;color:#b4cde3;left:1650.79px;transform:scaleX(1.0127);transform-origin:left center;">10:00 AM</span>
<span class="t" style="top:877px;font-size:14px;line-height:20px;color:#b4cde3;left:1749.43px;transform:scaleX(1.0706);transform-origin:left center;">10/24/23</span>
<div class="b" style="left:22px;top:902px;width:1880px;height:30px;background:#242833;"></div>
<span class="t" style="top:907px;font-size:14px;line-height:20px;color:#b4cde3;left:35.6px;">984502</span>
<a class="t" style="top:907px;font-size:14px;line-height:20px;color:#3d8fe6;left:147.66px;transform:scaleX(1.04);transform-origin:left center;text-decoration:underline;text-underline-offset:0.5px;text-decoration-skip-ink:none;text-decoration-thickness:1px;text-decoration-color:rgba(61,143,230,0.85);">1113984502</a>
<span class="t" style="top:907px;font-size:14px;line-height:20px;color:#b4cde3;left:339px;transform:scaleX(0.9412);transform-origin:left center;">21INV-USD</span>
<span class="t" style="top:907px;font-size:14px;line-height:20px;color:#b4cde3;left:520px;">22INV-EUR</span>
<span class="t" style="top:907px;font-size:14px;line-height:20px;color:#b4cde3;left:689px;">Buy</span>
<span class="t" style="top:907px;font-size:14px;line-height:20px;color:#b4cde3;right:1010.21px;transform:scaleX(0.979);transform-origin:right center;">123,200,000.00</span>
<span class="t" style="top:907px;font-size:14px;line-height:20px;color:#b4cde3;right:809.71px;transform:scaleX(0.979);transform-origin:right center;">123,200,000.00</span>
<span class="t" style="top:907px;font-size:14px;line-height:20px;color:#b4cde3;right:584.7px;transform:scaleX(0.965);transform-origin:right center;">31,845,676.69</span>
<span class="t" style="top:907px;font-size:14px;line-height:20px;color:#b4cde3;right:411.71px;">1.37266</span>
<span class="t" style="top:907px;font-size:14px;line-height:20px;color:#b4cde3;left:1585.23px;transform:scaleX(1.0706);transform-origin:left center;">10/23/23</span>
<span class="t" style="top:907px;font-size:14px;line-height:20px;color:#b4cde3;left:1650.79px;transform:scaleX(1.0127);transform-origin:left center;">10:00 AM</span>
<span class="t" style="top:907px;font-size:14px;line-height:20px;color:#b4cde3;left:1749.43px;transform:scaleX(1.0706);transform-origin:left center;">10/24/23</span>
<div class="b" style="left:22px;top:932px;width:1880px;height:30px;background:#13151b;"></div>
<span class="t" style="top:937px;font-size:14px;line-height:20px;color:#b4cde3;left:35.6px;">039392</span>
<a class="t" style="top:937px;font-size:14px;line-height:20px;color:#3d8fe6;left:148px;transform:scaleX(1.008);transform-origin:left center;text-decoration:underline;text-underline-offset:0.5px;text-decoration-skip-ink:none;text-decoration-thickness:1px;text-decoration-color:rgba(61,143,230,0.85);">4343039392</a>
<span class="t" style="top:937px;font-size:14px;line-height:20px;color:#b4cde3;left:339px;transform:scaleX(0.9412);transform-origin:left center;">21INV-USD</span>
<span class="t" style="top:937px;font-size:14px;line-height:20px;color:#b4cde3;left:520px;">22INV-EUR</span>
<span class="t" style="top:937px;font-size:14px;line-height:20px;color:#b4cde3;left:689px;">Buy</span>
<span class="t" style="top:937px;font-size:14px;line-height:20px;color:#b4cde3;right:1010.2px;transform:scaleX(0.9602);transform-origin:right center;">5,454,534.00</span>
<span class="t" style="top:937px;font-size:14px;line-height:20px;color:#b4cde3;right:809.7px;transform:scaleX(0.9602);transform-origin:right center;">5,454,534.00</span>
<span class="t" style="top:937px;font-size:14px;line-height:20px;color:#b4cde3;right:584.7px;transform:scaleX(0.9602);transform-origin:right center;">4,500,086.52</span>
<span class="t" style="top:937px;font-size:14px;line-height:20px;color:#b4cde3;right:411.71px;transform:scaleX(0.9811);transform-origin:right center;">0.825018</span>
<span class="t" style="top:937px;font-size:14px;line-height:20px;color:#b4cde3;left:1585.23px;transform:scaleX(1.0706);transform-origin:left center;">10/23/23</span>
<span class="t" style="top:937px;font-size:14px;line-height:20px;color:#b4cde3;left:1650.79px;transform:scaleX(1.0127);transform-origin:left center;">10:00 AM</span>
<span class="t" style="top:937px;font-size:14px;line-height:20px;color:#b4cde3;left:1749.43px;transform:scaleX(1.0706);transform-origin:left center;">10/24/23</span>
<div class="b" style="left:22px;top:962px;width:1880px;height:30px;background:#242833;"></div>
<span class="t" style="top:967px;font-size:14px;line-height:20px;color:#b4cde3;left:35.6px;">984502</span>
<a class="t" style="top:967px;font-size:14px;line-height:20px;color:#3d8fe6;left:148px;transform:scaleX(1.008);transform-origin:left center;text-decoration:underline;text-underline-offset:0.5px;text-decoration-skip-ink:none;text-decoration-thickness:1px;text-decoration-color:rgba(61,143,230,0.85);">3344984502</a>
<span class="t" style="top:967px;font-size:14px;line-height:20px;color:#b4cde3;left:339px;transform:scaleX(0.9412);transform-origin:left center;">21INV-USD</span>
<span class="t" style="top:967px;font-size:14px;line-height:20px;color:#b4cde3;left:520px;">22INV-EUR</span>
<span class="t" style="top:967px;font-size:14px;line-height:20px;color:#b4cde3;left:689px;">Buy</span>
<span class="t" style="top:967px;font-size:14px;line-height:20px;color:#b4cde3;right:1010.2px;transform:scaleX(0.9602);transform-origin:right center;">3,434,433.00</span>
<span class="t" style="top:967px;font-size:14px;line-height:20px;color:#b4cde3;right:809.7px;transform:scaleX(0.9602);transform-origin:right center;">3,434,433.00</span>
<span class="t" style="top:967px;font-size:14px;line-height:20px;color:#b4cde3;right:584.7px;transform:scaleX(0.9602);transform-origin:right center;">4,714,318.10</span>
<span class="t" style="top:967px;font-size:14px;line-height:20px;color:#b4cde3;right:411.71px;">1.37266</span>
<span class="t" style="top:967px;font-size:14px;line-height:20px;color:#b4cde3;left:1585.23px;transform:scaleX(1.0706);transform-origin:left center;">10/23/23</span>
<span class="t" style="top:967px;font-size:14px;line-height:20px;color:#b4cde3;left:1650.79px;transform:scaleX(1.0127);transform-origin:left center;">10:00 AM</span>
<span class="t" style="top:967px;font-size:14px;line-height:20px;color:#b4cde3;left:1749.43px;transform:scaleX(1.0706);transform-origin:left center;">10/24/23</span>
<div class="b" style="left:22px;top:992px;width:1880px;height:30px;background:#13151b;"></div>
<span class="t" style="top:997px;font-size:14px;line-height:20px;color:#b4cde3;left:35.6px;">039392</span>
<a class="t" style="top:997px;font-size:14px;line-height:20px;color:#3d8fe6;left:148px;transform:scaleX(1.0092);transform-origin:left center;text-decoration:underline;text-underline-offset:0.5px;text-decoration-skip-ink:none;text-decoration-thickness:1px;text-decoration-color:rgba(61,143,230,0.85);">93434039392</a>
<span class="t" style="top:997px;font-size:14px;line-height:20px;color:#b4cde3;left:339px;transform:scaleX(0.9412);transform-origin:left center;">21INV-USD</span>
<span class="t" style="top:997px;font-size:14px;line-height:20px;color:#b4cde3;left:520px;">22INV-EUR</span>
<span class="t" style="top:997px;font-size:14px;line-height:20px;color:#b4cde3;left:689px;">Buy</span>
<span class="t" style="top:997px;font-size:14px;line-height:20px;color:#b4cde3;right:1010.21px;transform:scaleX(0.9829);transform-origin:right center;">143,432.00</span>
<span class="t" style="top:997px;font-size:14px;line-height:20px;color:#b4cde3;right:809.71px;transform:scaleX(0.9829);transform-origin:right center;">143,432.00</span>
<span class="t" style="top:997px;font-size:14px;line-height:20px;color:#b4cde3;right:584.71px;transform:scaleX(0.9874);transform-origin:right center;">11,850,592.60</span>
<span class="t" style="top:997px;font-size:14px;line-height:20px;color:#b4cde3;right:411.71px;transform:scaleX(0.978);transform-origin:right center;">82.6217</span>
<span class="t" style="top:997px;font-size:14px;line-height:20px;color:#b4cde3;left:1585.23px;transform:scaleX(1.0706);transform-origin:left center;">10/23/23</span>
<span class="t" style="top:997px;font-size:14px;line-height:20px;color:#b4cde3;left:1650.79px;transform:scaleX(1.0127);transform-origin:left center;">10:00 AM</span>
<span class="t" style="top:997.5px;font-size:14px;line-height:20px;color:#b4cde3;left:1749.43px;transform:scaleX(1.0706);transform-origin:left center;">10/24/23</span>
<div class="b" style="left:414px;top:236px;width:446px;height:1063px;background:#13151b;border:1px solid #a9c6de;box-sizing:border-box;"></div>
<span class="t" style="top:242.5px;font-size:14px;line-height:20px;color:#b4cde3;left:428px;">bos.esrohaes Beneficiaries</span>
<div class="b" style="left:415px;top:266px;width:444px;height:1px;background:#3a404c;"></div>
<span class="t" style="top:274px;font-size:14px;line-height:20px;color:#b9d0e6;font-weight:bold;left:456.5px;transform:scaleX(0.9204);transform-origin:left center;">ABC CANADA GROWTH</span>
<span class="t" style="top:301px;font-size:13px;line-height:20px;color:#b4cde3;left:459px;transform:scaleX(0.9525);transform-origin:left center;">SWIFT:</span>
<span class="t" style="top:301px;font-size:13px;line-height:20px;color:#e4e8ee;left:533px;transform:scaleX(0.9256);transform-origin:left center;">CHASUS313BQ</span>
<span class="t" style="top:325px;font-size:13px;line-height:20px;color:#b4cde3;left:459px;">Account:</span>
<span class="t" style="top:325px;font-size:13px;line-height:20px;color:#e4e8ee;left:533px;transform:scaleX(0.9692);transform-origin:left center;">JPY77CHAS67777777773434</span>
<svg class="b" style="left:736px;top:274.5px" width="34" height="23" preserveAspectRatio="none" viewBox="0 0 34 23"><rect width="34" height="23" fill="#fff"/><rect width="9.5" height="23" fill="#ff0000"/><rect x="24.5" width="9.5" height="23" fill="#ff0000"/><path d="M17 5.2 L18.1 7.6 L19.5 7 L19 10.2 L20.6 8.8 L21 9.9 L23 9.5 L22.3 11.6 L23.2 12.2 L19.8 14.8 L20.2 16 L17.4 15.6 V18 H16.6 V15.6 L13.8 16 L14.2 14.8 L10.8 12.2 L11.7 11.6 L11 9.5 L13 9.9 L13.4 8.8 L15 10.2 L14.5 7 L15.9 7.6 Z" fill="#ff0000"/></svg>
<span class="t" style="top:304px;font-size:14px;line-height:20px;color:#b4cde3;left:653.05px;width:200px;text-align:center;transform:scaleX(0.9169);transform-origin:center center;">CAD</span>
<div class="b" style="left:415px;top:353px;width:444px;height:1px;background:#3a404c;"></div>
<span class="t" style="top:365.5px;font-size:14px;line-height:20px;color:#b9d0e6;font-weight:bold;left:456.5px;transform:scaleX(0.9209);transform-origin:left center;">ABC INT GBP GROWTH</span>
<span class="t" style="top:392.5px;font-size:13px;line-height:20px;color:#b4cde3;left:459px;transform:scaleX(0.9525);transform-origin:left center;">SWIFT:</span>
<span class="t" style="top:392.5px;font-size:13px;line-height:20px;color:#e4e8ee;left:533px;transform:scaleX(0.9256);transform-origin:left center;">CHASUS313BQ</span>
<span class="t" style="top:416.5px;font-size:13px;line-height:20px;color:#b4cde3;left:459px;">Account:</span>
<span class="t" style="top:416.5px;font-size:13px;line-height:20px;color:#e4e8ee;left:533px;transform:scaleX(0.9496);transform-origin:left center;">GBP77CHAS67777777773581</span>
<svg class="b" style="left:735px;top:366px" width="35" height="24" preserveAspectRatio="none" viewBox="0 0 34 23"><rect width="34" height="23" fill="#0a4fb0"/><path d="M0 0 L34 23 M34 0 L0 23" stroke="#fff" stroke-width="4.6"/><path d="M0 0 L34 23 M34 0 L0 23" stroke="#d80027" stroke-width="1.6"/><path d="M17 0 V23 M0 11.5 H34" stroke="#fff" stroke-width="7.6"/><path d="M17 0 V23 M0 11.5 H34" stroke="#d80027" stroke-width="4.4"/></svg>
<span class="t" style="top:394px;font-size:14px;line-height:20px;color:#b4cde3;left:653.16px;width:200px;text-align:center;transform:scaleX(0.9238);transform-origin:center center;">GBP</span>
<div class="b" style="left:415px;top:445px;width:444px;height:1px;background:#3a404c;"></div>
<span class="t" style="top:457px;font-size:14px;line-height:20px;color:#b9d0e6;font-weight:bold;left:456.5px;transform:scaleX(0.9195);transform-origin:left center;">Oculus Fund I</span>
<span class="t" style="top:484px;font-size:13px;line-height:20px;color:#b4cde3;left:459px;transform:scaleX(0.9525);transform-origin:left center;">SWIFT:</span>
<span class="t" style="top:484px;font-size:13px;line-height:20px;color:#e4e8ee;left:533px;transform:scaleX(0.9256);transform-origin:left center;">CHASUS313BQ</span>
<span class="t" style="top:508px;font-size:13px;line-height:20px;color:#b4cde3;left:459px;">Account:</span>
<span class="t" style="top:508px;font-size:13px;line-height:20px;color:#e4e8ee;left:532.93px;transform:scaleX(0.9663);transform-origin:left center;">EUR77CHAS677777777888888</span>
<svg class="b" style="left:735px;top:459px" width="35" height="23.5" preserveAspectRatio="none" viewBox="0 0 34 23"><rect width="34" height="23" fill="#003399"/><circle cx="17.00" cy="3.75" r="0.9" fill="#f7c600"/><circle cx="20.88" cy="4.79" r="0.9" fill="#f7c600"/><circle cx="23.71" cy="7.62" r="0.9" fill="#f7c600"/><circle cx="24.75" cy="11.50" r="0.9" fill="#f7c600"/><circle cx="23.71" cy="15.37" r="0.9" fill="#f7c600"/><circle cx="20.88" cy="18.21" r="0.9" fill="#f7c600"/><circle cx="17.00" cy="19.25" r="0.9" fill="#f7c600"/><circle cx="13.12" cy="18.21" r="0.9" fill="#f7c600"/><circle cx="10.29" cy="15.38" r="0.9" fill="#f7c600"/><circle cx="9.25" cy="11.50" r="0.9" fill="#f7c600"/><circle cx="10.29" cy="7.62" r="0.9" fill="#f7c600"/><circle cx="13.12" cy="4.79" r="0.9" fill="#f7c600"/></svg>
<span class="t" style="top:486px;font-size:14px;line-height:20px;color:#b4cde3;left:652.6px;width:200px;text-align:center;transform:scaleX(0.8964);transform-origin:center center;">EUR</span>
<div class="b" style="left:415px;top:536px;width:444px;height:1px;background:#3a404c;"></div>
<span class="t" style="top:548px;font-size:14px;line-height:20px;color:#b9d0e6;font-weight:bold;left:456.5px;transform:scaleX(0.9239);transform-origin:left center;">Oculus Fund II</span>
<span class="t" style="top:575px;font-size:13px;line-height:20px;color:#b4cde3;left:459px;transform:scaleX(0.9525);transform-origin:left center;">SWIFT:</span>
<span class="t" style="top:575px;font-size:13px;line-height:20px;color:#e4e8ee;left:533px;transform:scaleX(0.9256);transform-origin:left center;">CHASUS313BQ</span>
<span class="t" style="top:599px;font-size:13px;line-height:20px;color:#b4cde3;left:459px;">Account:</span>
<span class="t" style="top:599px;font-size:13px;line-height:20px;color:#e4e8ee;left:533px;transform:scaleX(0.9746);transform-origin:left center;">JPY77CHAS677777777435343</span>
<svg class="b" style="left:736px;top:549px" width="34" height="23" preserveAspectRatio="none" viewBox="0 0 34 23"><rect width="34" height="23" fill="#fff"/><circle cx="17" cy="11.5" r="6.4" fill="#d80027"/></svg>
<span class="t" style="top:578px;font-size:14px;line-height:20px;color:#b4cde3;left:652.7px;width:200px;text-align:center;transform:scaleX(0.9112);transform-origin:center center;">JPY</span>
<div class="b" style="left:415px;top:623px;width:444px;height:1px;background:#3a404c;"></div>
<span class="t" style="top:635px;font-size:14px;line-height:20px;color:#b9d0e6;font-weight:bold;left:456.5px;transform:scaleX(0.9329);transform-origin:left center;">Oculus Fund III</span>
<span class="t" style="top:662px;font-size:13px;line-height:20px;color:#b4cde3;left:459px;transform:scaleX(0.9525);transform-origin:left center;">SWIFT:</span>
<span class="t" style="top:662px;font-size:13px;line-height:20px;color:#e4e8ee;left:533px;transform:scaleX(0.9239);transform-origin:left center;">CHASUS313BF</span>
<span class="t" style="top:686px;font-size:13px;line-height:20px;color:#b4cde3;left:459px;">Account:</span>
<span class="t" style="top:686px;font-size:13px;line-height:20px;color:#e4e8ee;left:533px;transform:scaleX(0.9665);transform-origin:left center;">CAD77CHAS6777777774352222</span>
<svg class="b" style="left:736px;top:635.5px" width="34" height="23" preserveAspectRatio="none" viewBox="0 0 34 23"><rect width="34" height="23" fill="#fff"/><rect width="9.5" height="23" fill="#ff0000"/><rect x="24.5" width="9.5" height="23" fill="#ff0000"/><path d="M17 5.2 L18.1 7.6 L19.5 7 L19 10.2 L20.6 8.8 L21 9.9 L23 9.5 L22.3 11.6 L23.2 12.2 L19.8 14.8 L20.2 16 L17.4 15.6 V18 H16.6 V15.6 L13.8 16 L14.2 14.8 L10.8 12.2 L11.7 11.6 L11 9.5 L13 9.9 L13.4 8.8 L15 10.2 L14.5 7 L15.9 7.6 Z" fill="#ff0000"/></svg>
<span class="t" style="top:664px;font-size:14px;line-height:20px;color:#b4cde3;left:653.05px;width:200px;text-align:center;transform:scaleX(0.9169);transform-origin:center center;">CAD</span>
<div class="b" style="left:415px;top:710px;width:444px;height:1px;background:#3a404c;"></div>
<span class="t" style="top:722px;font-size:14px;line-height:20px;color:#b9d0e6;font-weight:bold;left:456.5px;transform:scaleX(0.9424);transform-origin:left center;">XXXXXXX Fund I</span>
<span class="t" style="top:749px;font-size:13px;line-height:20px;color:#b4cde3;left:459px;transform:scaleX(0.9525);transform-origin:left center;">SWIFT:</span>
<span class="t" style="top:749px;font-size:13px;line-height:20px;color:#e4e8ee;left:533px;transform:scaleX(0.9077);transform-origin:left center;">GBPSUS313BF</span>
<span class="t" style="top:773px;font-size:13px;line-height:20px;color:#b4cde3;left:459px;">Account:</span>
<span class="t" style="top:773px;font-size:13px;line-height:20px;color:#e4e8ee;left:533px;transform:scaleX(0.9625);transform-origin:left center;">GBOP77CHAS677777777432333</span>
<svg class="b" style="left:736px;top:724px" width="34" height="23" preserveAspectRatio="none" viewBox="0 0 34 23"><rect width="34" height="23" fill="#fff"/><rect y="0.000" width="34" height="1.769" fill="#e0082c"/><rect y="3.538" width="34" height="1.769" fill="#e0082c"/><rect y="7.077" width="34" height="1.769" fill="#e0082c"/><rect y="10.615" width="34" height="1.769" fill="#e0082c"/><rect y="14.154" width="34" height="1.769" fill="#e0082c"/><rect y="17.692" width="34" height="1.769" fill="#e0082c"/><rect y="21.231" width="34" height="1.769" fill="#e0082c"/><rect width="16.9" height="12.1" fill="#2c54bf"/><rect x="2.10" y="2.10" width="1.5" height="1.5" fill="#fff" fill-opacity="0.92"/><rect x="5.85" y="2.10" width="1.5" height="1.5" fill="#fff" fill-opacity="0.92"/><rect x="9.60" y="2.10" width="1.5" height="1.5" fill="#fff" fill-opacity="0.92"/><rect x="13.35" y="2.10" width="1.5" height="1.5" fill="#fff" fill-opacity="0.92"/><rect x="2.10" y="5.55" width="1.5" height="1.5" fill="#fff" fill-opacity="0.92"/><rect x="5.85" y="5.55" width="1.5" height="1.5" fill="#fff" fill-opacity="0.92"/><rect x="9.60" y="5.55" width="1.5" height="1.5" fill="#fff" fill-opacity="0.92"/><rect x="13.35" y="5.55" width="1.5" height="1.5" fill="#fff" fill-opacity="0.92"/><rect x="2.10" y="9.00" width="1.5" height="1.5" fill="#fff" fill-opacity="0.92"/><rect x="5.85" y="9.00" width="1.5" height="1.5" fill="#fff" fill-opacity="0.92"/><rect x="9.60" y="9.00" width="1.5" height="1.5" fill="#fff" fill-opacity="0.92"/><rect x="13.35" y="9.00" width="1.5" height="1.5" fill="#fff" fill-opacity="0.92"/></svg>
<span class="t" style="top:752px;font-size:14px;line-height:20px;color:#b4cde3;left:652.59px;width:200px;text-align:center;transform:scaleX(0.9139);transform-origin:center center;">USD</span>
<div class="b" style="left:415px;top:790px;width:444px;height:47px;background:#242833;"></div>
<svg class="b" style="left:459px;top:793.5px" width="14" height="13" viewBox="0 0 14 13"><path d="M1 0.5 V9 H9" fill="none" stroke="#7f9cb8" stroke-width="1.2"/><path d="M8.5 6 L13 9 L8.5 12 Z" fill="#7f9cb8"/></svg>
<span class="t" style="top:794px;font-size:12.5px;line-height:20px;color:#a3c3e0;left:478.82px;transform:scaleX(0.98);transform-origin:left center;">Funded By</span>
<span class="t" style="top:814px;font-size:12px;line-height:20px;color:#e4e8ee;left:479.2px;transform:scaleX(0.9857);transform-origin:left center;">Municipal Money Market Fund - ***9156 (USD</span>
<svg class="b" style="left:725.5px;top:819px" width="15" height="10" preserveAspectRatio="none" viewBox="0 0 34 23"><rect width="34" height="23" fill="#fff"/><rect y="0.000" width="34" height="1.769" fill="#e0082c"/><rect y="3.538" width="34" height="1.769" fill="#e0082c"/><rect y="7.077" width="34" height="1.769" fill="#e0082c"/><rect y="10.615" width="34" height="1.769" fill="#e0082c"/><rect y="14.154" width="34" height="1.769" fill="#e0082c"/><rect y="17.692" width="34" height="1.769" fill="#e0082c"/><rect y="21.231" width="34" height="1.769" fill="#e0082c"/><rect width="16.9" height="12.1" fill="#2c54bf"/><rect x="2.10" y="2.10" width="1.5" height="1.5" fill="#fff" fill-opacity="0.92"/><rect x="5.85" y="2.10" width="1.5" height="1.5" fill="#fff" fill-opacity="0.92"/><rect x="9.60" y="2.10" width="1.5" height="1.5" fill="#fff" fill-opacity="0.92"/><rect x="13.35" y="2.10" width="1.5" height="1.5" fill="#fff" fill-opacity="0.92"/><rect x="2.10" y="5.55" width="1.5" height="1.5" fill="#fff" fill-opacity="0.92"/><rect x="5.85" y="5.55" width="1.5" height="1.5" fill="#fff" fill-opacity="0.92"/><rect x="9.60" y="5.55" width="1.5" height="1.5" fill="#fff" fill-opacity="0.92"/><rect x="13.35" y="5.55" width="1.5" height="1.5" fill="#fff" fill-opacity="0.92"/><rect x="2.10" y="9.00" width="1.5" height="1.5" fill="#fff" fill-opacity="0.92"/><rect x="5.85" y="9.00" width="1.5" height="1.5" fill="#fff" fill-opacity="0.92"/><rect x="9.60" y="9.00" width="1.5" height="1.5" fill="#fff" fill-opacity="0.92"/><rect x="13.35" y="9.00" width="1.5" height="1.5" fill="#fff" fill-opacity="0.92"/></svg>
<span class="t" style="top:814px;font-size:12px;line-height:20px;color:#e4e8ee;left:760.3px;transform:scaleX(0.9846);transform-origin:left center;">89,250.75)</span>
<span class="t" style="top:848px;font-size:14px;line-height:20px;color:#b9d0e6;font-weight:bold;left:456.5px;transform:scaleX(1.0054);transform-origin:left center;">ZZ TT MM</span>
<span class="t" style="top:875px;font-size:13px;line-height:20px;color:#b4cde3;left:459px;transform:scaleX(0.9525);transform-origin:left center;">SWIFT:</span>
<span class="t" style="top:875px;font-size:13px;line-height:20px;color:#e4e8ee;left:532.98px;transform:scaleX(0.9231);transform-origin:left center;">USDSUS313BF</span>
<span class="t" style="top:899px;font-size:13px;line-height:20px;color:#b4cde3;left:459px;">Account:</span>
<span class="t" style="top:899px;font-size:13px;line-height:20px;color:#e4e8ee;left:533px;transform:scaleX(0.9625);transform-origin:left center;">GBOP77CHAS677777777432333</span>
<svg class="b" style="left:736px;top:849.5px" width="34" height="23" preserveAspectRatio="none" viewBox="0 0 34 23"><rect width="34" height="23" fill="#fff"/><rect y="0.000" width="34" height="1.769" fill="#e0082c"/><rect y="3.538" width="34" height="1.769" fill="#e0082c"/><rect y="7.077" width="34" height="1.769" fill="#e0082c"/><rect y="10.615" width="34" height="1.769" fill="#e0082c"/><rect y="14.154" width="34" height="1.769" fill="#e0082c"/><rect y="17.692" width="34" height="1.769" fill="#e0082c"/><rect y="21.231" width="34" height="1.769" fill="#e0082c"/><rect width="16.9" height="12.1" fill="#2c54bf"/><rect x="2.10" y="2.10" width="1.5" height="1.5" fill="#fff" fill-opacity="0.92"/><rect x="5.85" y="2.10" width="1.5" height="1.5" fill="#fff" fill-opacity="0.92"/><rect x="9.60" y="2.10" width="1.5" height="1.5" fill="#fff" fill-opacity="0.92"/><rect x="13.35" y="2.10" width="1.5" height="1.5" fill="#fff" fill-opacity="0.92"/><rect x="2.10" y="5.55" width="1.5" height="1.5" fill="#fff" fill-opacity="0.92"/><rect x="5.85" y="5.55" width="1.5" height="1.5" fill="#fff" fill-opacity="0.92"/><rect x="9.60" y="5.55" width="1.5" height="1.5" fill="#fff" fill-opacity="0.92"/><rect x="13.35" y="5.55" width="1.5" height="1.5" fill="#fff" fill-opacity="0.92"/><rect x="2.10" y="9.00" width="1.5" height="1.5" fill="#fff" fill-opacity="0.92"/><rect x="5.85" y="9.00" width="1.5" height="1.5" fill="#fff" fill-opacity="0.92"/><rect x="9.60" y="9.00" width="1.5" height="1.5" fill="#fff" fill-opacity="0.92"/><rect x="13.35" y="9.00" width="1.5" height="1.5" fill="#fff" fill-opacity="0.92"/></svg>
<span class="t" style="top:878px;font-size:14px;line-height:20px;color:#b4cde3;left:652.59px;width:200px;text-align:center;transform:scaleX(0.9139);transform-origin:center center;">USD</span>
<div class="b" style="left:415px;top:919px;width:444px;height:45px;background:#242833;"></div>
<svg class="b" style="left:459px;top:922px" width="14" height="13" viewBox="0 0 14 13"><path d="M1 0.5 V9 H9" fill="none" stroke="#7f9cb8" stroke-width="1.2"/><path d="M8.5 6 L13 9 L8.5 12 Z" fill="#7f9cb8"/></svg>
<span class="t" style="top:922.5px;font-size:12.5px;line-height:20px;color:#a3c3e0;left:478.82px;transform:scaleX(0.98);transform-origin:left center;">Funded By</span>
<span class="t" style="top:943px;font-size:12px;line-height:20px;color:#e4e8ee;left:479.2px;transform:scaleX(0.9763);transform-origin:left center;">Treasury Money Market Fund - ***4523 (USD</span>
<svg class="b" style="left:719px;top:948px" width="15" height="10" preserveAspectRatio="none" viewBox="0 0 34 23"><rect width="34" height="23" fill="#fff"/><rect y="0.000" width="34" height="1.769" fill="#e0082c"/><rect y="3.538" width="34" height="1.769" fill="#e0082c"/><rect y="7.077" width="34" height="1.769" fill="#e0082c"/><rect y="10.615" width="34" height="1.769" fill="#e0082c"/><rect y="14.154" width="34" height="1.769" fill="#e0082c"/><rect y="17.692" width="34" height="1.769" fill="#e0082c"/><rect y="21.231" width="34" height="1.769" fill="#e0082c"/><rect width="16.9" height="12.1" fill="#2c54bf"/><rect x="2.10" y="2.10" width="1.5" height="1.5" fill="#fff" fill-opacity="0.92"/><rect x="5.85" y="2.10" width="1.5" height="1.5" fill="#fff" fill-opacity="0.92"/><rect x="9.60" y="2.10" width="1.5" height="1.5" fill="#fff" fill-opacity="0.92"/><rect x="13.35" y="2.10" width="1.5" height="1.5" fill="#fff" fill-opacity="0.92"/><rect x="2.10" y="5.55" width="1.5" height="1.5" fill="#fff" fill-opacity="0.92"/><rect x="5.85" y="5.55" width="1.5" height="1.5" fill="#fff" fill-opacity="0.92"/><rect x="9.60" y="5.55" width="1.5" height="1.5" fill="#fff" fill-opacity="0.92"/><rect x="13.35" y="5.55" width="1.5" height="1.5" fill="#fff" fill-opacity="0.92"/><rect x="2.10" y="9.00" width="1.5" height="1.5" fill="#fff" fill-opacity="0.92"/><rect x="5.85" y="9.00" width="1.5" height="1.5" fill="#fff" fill-opacity="0.92"/><rect x="9.60" y="9.00" width="1.5" height="1.5" fill="#fff" fill-opacity="0.92"/><rect x="13.35" y="9.00" width="1.5" height="1.5" fill="#fff" fill-opacity="0.92"/></svg>
<span class="t" style="top:943px;font-size:12px;line-height:20px;color:#e4e8ee;left:745.8px;transform:scaleX(0.9835);transform-origin:left center;">128,940.50)</span>
<div class="b" style="left:415px;top:964px;width:444px;height:1px;background:#3a404c;"></div>
<span class="t" style="top:976px;font-size:14px;line-height:20px;color:#b9d0e6;font-weight:bold;left:456.5px;transform:scaleX(0.9564);transform-origin:left center;">ZZZ Prime Fund I</span>
<span class="t" style="top:1003px;font-size:13px;line-height:20px;color:#b4cde3;left:459px;transform:scaleX(0.9525);transform-origin:left center;">SWIFT:</span>
<span class="t" style="top:1003px;font-size:13px;line-height:20px;color:#e4e8ee;left:532.98px;transform:scaleX(0.9231);transform-origin:left center;">USDSUS313BF</span>
<span class="t" style="top:1027px;font-size:13px;line-height:20px;color:#b4cde3;left:459px;">Account:</span>
<span class="t" style="top:1027px;font-size:13px;line-height:20px;color:#e4e8ee;left:532.93px;transform:scaleX(0.9721);transform-origin:left center;">USDP77CHAS677777777432333</span>
<svg class="b" style="left:736px;top:977.5px" width="34" height="23" preserveAspectRatio="none" viewBox="0 0 34 23"><rect width="34" height="23" fill="#fff"/><rect y="0.000" width="34" height="1.769" fill="#e0082c"/><rect y="3.538" width="34" height="1.769" fill="#e0082c"/><rect y="7.077" width="34" height="1.769" fill="#e0082c"/><rect y="10.615" width="34" height="1.769" fill="#e0082c"/><rect y="14.154" width="34" height="1.769" fill="#e0082c"/><rect y="17.692" width="34" height="1.769" fill="#e0082c"/><rect y="21.231" width="34" height="1.769" fill="#e0082c"/><rect width="16.9" height="12.1" fill="#2c54bf"/><rect x="2.10" y="2.10" width="1.5" height="1.5" fill="#fff" fill-opacity="0.92"/><rect x="5.85" y="2.10" width="1.5" height="1.5" fill="#fff" fill-opacity="0.92"/><rect x="9.60" y="2.10" width="1.5" height="1.5" fill="#fff" fill-opacity="0.92"/><rect x="13.35" y="2.10" width="1.5" height="1.5" fill="#fff" fill-opacity="0.92"/><rect x="2.10" y="5.55" width="1.5" height="1.5" fill="#fff" fill-opacity="0.92"/><rect x="5.85" y="5.55" width="1.5" height="1.5" fill="#fff" fill-opacity="0.92"/><rect x="9.60" y="5.55" width="1.5" height="1.5" fill="#fff" fill-opacity="0.92"/><rect x="13.35" y="5.55" width="1.5" height="1.5" fill="#fff" fill-opacity="0.92"/><rect x="2.10" y="9.00" width="1.5" height="1.5" fill="#fff" fill-opacity="0.92"/><rect x="5.85" y="9.00" width="1.5" height="1.5" fill="#fff" fill-opacity="0.92"/><rect x="9.60" y="9.00" width="1.5" height="1.5" fill="#fff" fill-opacity="0.92"/><rect x="13.35" y="9.00" width="1.5" height="1.5" fill="#fff" fill-opacity="0.92"/></svg>
<span class="t" style="top:1006px;font-size:14px;line-height:20px;color:#b4cde3;left:652.59px;width:200px;text-align:center;transform:scaleX(0.9139);transform-origin:center center;">USD</span>
<div class="b" style="left:415px;top:1047px;width:444px;height:45.5px;background:#242833;"></div>
<svg class="b" style="left:459px;top:1050px" width="14" height="13" viewBox="0 0 14 13"><path d="M1 0.5 V9 H9" fill="none" stroke="#7f9cb8" stroke-width="1.2"/><path d="M8.5 6 L13 9 L8.5 12 Z" fill="#7f9cb8"/></svg>
<span class="t" style="top:1050.5px;font-size:12.5px;line-height:20px;color:#a3c3e0;left:478.82px;transform:scaleX(0.98);transform-origin:left center;">Funded By</span>
<span class="t" style="top:1071px;font-size:12px;line-height:20px;color:#e4e8ee;left:479.2px;transform:scaleX(0.9794);transform-origin:left center;">Prime Money Market Fund - ***7891 (USD</span>
<svg class="b" style="left:704.5px;top:1076px" width="15" height="10" preserveAspectRatio="none" viewBox="0 0 34 23"><rect width="34" height="23" fill="#fff"/><rect y="0.000" width="34" height="1.769" fill="#e0082c"/><rect y="3.538" width="34" height="1.769" fill="#e0082c"/><rect y="7.077" width="34" height="1.769" fill="#e0082c"/><rect y="10.615" width="34" height="1.769" fill="#e0082c"/><rect y="14.154" width="34" height="1.769" fill="#e0082c"/><rect y="17.692" width="34" height="1.769" fill="#e0082c"/><rect y="21.231" width="34" height="1.769" fill="#e0082c"/><rect width="16.9" height="12.1" fill="#2c54bf"/><rect x="2.10" y="2.10" width="1.5" height="1.5" fill="#fff" fill-opacity="0.92"/><rect x="5.85" y="2.10" width="1.5" height="1.5" fill="#fff" fill-opacity="0.92"/><rect x="9.60" y="2.10" width="1.5" height="1.5" fill="#fff" fill-opacity="0.92"/><rect x="13.35" y="2.10" width="1.5" height="1.5" fill="#fff" fill-opacity="0.92"/><rect x="2.10" y="5.55" width="1.5" height="1.5" fill="#fff" fill-opacity="0.92"/><rect x="5.85" y="5.55" width="1.5" height="1.5" fill="#fff" fill-opacity="0.92"/><rect x="9.60" y="5.55" width="1.5" height="1.5" fill="#fff" fill-opacity="0.92"/><rect x="13.35" y="5.55" width="1.5" height="1.5" fill="#fff" fill-opacity="0.92"/><rect x="2.10" y="9.00" width="1.5" height="1.5" fill="#fff" fill-opacity="0.92"/><rect x="5.85" y="9.00" width="1.5" height="1.5" fill="#fff" fill-opacity="0.92"/><rect x="9.60" y="9.00" width="1.5" height="1.5" fill="#fff" fill-opacity="0.92"/><rect x="13.35" y="9.00" width="1.5" height="1.5" fill="#fff" fill-opacity="0.92"/></svg>
<span class="t" style="top:1071px;font-size:12px;line-height:20px;color:#e4e8ee;left:733.8px;transform:scaleX(0.9835);transform-origin:left center;">245,680.50)</span>
<div class="b" style="left:415px;top:1092px;width:444px;height:1px;background:#3a404c;"></div>
<span class="t" style="top:1096px;font-size:14px;line-height:20px;color:#b4cde3;left:428px;transform:scaleX(1.0045);transform-origin:left center;">bos.esrohaes Internal Accounts</span>
<div class="b" style="left:415px;top:1119px;width:444px;height:1px;background:#3a404c;"></div>
<svg class="b" style="left:443px;top:1136px" width="13.4" height="12.4" viewBox="0 0 14 13" preserveAspectRatio="none"><path d="M7 0.3 L0.2 6.3 L1.1 7.3 L7 2.2 L12.9 7.3 L13.8 6.3 L11.6 4.3 V1.2 H10 V2.9 Z" fill="#b4cde3"/><path d="M2.2 7.3 L7 3.2 L11.8 7.3 V12.6 H8.4 V8.8 H5.6 V12.6 H2.2 Z" fill="#b4cde3"/></svg>
<span class="t" style="top:1132.5px;font-size:14px;line-height:20px;color:#b9d0e6;font-weight:bold;left:460px;transform:scaleX(0.9159);transform-origin:left center;">ABC INFRASTRUC LUX</span>
<span class="t" style="top:1153.5px;font-size:13px;line-height:20px;color:#b4cde3;left:459px;transform:scaleX(0.9525);transform-origin:left center;">SWIFT:</span>
<span class="t" style="top:1153.5px;font-size:13px;line-height:20px;color:#e4e8ee;left:533px;transform:scaleX(0.9256);transform-origin:left center;">CHASUS313BQ</span>
<span class="t" style="top:1178px;font-size:13px;line-height:20px;color:#b4cde3;left:459px;">Account:</span>
<span class="t" style="top:1178px;font-size:13px;line-height:20px;color:#e4e8ee;left:532.94px;transform:scaleX(0.9606);transform-origin:left center;">EUR77CHAS67777777774509</span>
<svg class="b" style="left:735px;top:1129px" width="35" height="23.5" preserveAspectRatio="none" viewBox="0 0 34 23"><rect width="34" height="23" fill="#003399"/><circle cx="17.00" cy="3.75" r="0.9" fill="#f7c600"/><circle cx="20.88" cy="4.79" r="0.9" fill="#f7c600"/><circle cx="23.71" cy="7.62" r="0.9" fill="#f7c600"/><circle cx="24.75" cy="11.50" r="0.9" fill="#f7c600"/><circle cx="23.71" cy="15.37" r="0.9" fill="#f7c600"/><circle cx="20.88" cy="18.21" r="0.9" fill="#f7c600"/><circle cx="17.00" cy="19.25" r="0.9" fill="#f7c600"/><circle cx="13.12" cy="18.21" r="0.9" fill="#f7c600"/><circle cx="10.29" cy="15.38" r="0.9" fill="#f7c600"/><circle cx="9.25" cy="11.50" r="0.9" fill="#f7c600"/><circle cx="10.29" cy="7.62" r="0.9" fill="#f7c600"/><circle cx="13.12" cy="4.79" r="0.9" fill="#f7c600"/></svg>
<span class="t" style="top:1156px;font-size:14px;line-height:20px;color:#b4cde3;left:652.6px;width:200px;text-align:center;transform:scaleX(0.8964);transform-origin:center center;">EUR</span>
<div class="b" style="left:415px;top:1205px;width:444px;height:1px;background:#3a404c;"></div>
<svg class="b" style="left:443px;top:1224px" width="13.4" height="12.4" viewBox="0 0 14 13" preserveAspectRatio="none"><path d="M7 0.3 L0.2 6.3 L1.1 7.3 L7 2.2 L12.9 7.3 L13.8 6.3 L11.6 4.3 V1.2 H10 V2.9 Z" fill="#b4cde3"/><path d="M2.2 7.3 L7 3.2 L11.8 7.3 V12.6 H8.4 V8.8 H5.6 V12.6 H2.2 Z" fill="#b4cde3"/></svg>
<span class="t" style="top:1220px;font-size:14px;line-height:20px;color:#b9d0e6;font-weight:bold;left:460px;transform:scaleX(0.9049);transform-origin:left center;">ABC UK GLOBAL INV</span>
<span class="t" style="top:1246px;font-size:13px;line-height:20px;color:#b4cde3;left:459px;transform:scaleX(0.9525);transform-origin:left center;">SWIFT:</span>
<span class="t" style="top:1246px;font-size:13px;line-height:20px;color:#e4e8ee;left:533px;transform:scaleX(0.9256);transform-origin:left center;">CHASUS313BQ</span>
<span class="t" style="top:1270px;font-size:13px;line-height:20px;color:#b4cde3;left:459px;">Account:</span>
<span class="t" style="top:1270px;font-size:13px;line-height:20px;color:#e4e8ee;left:533px;transform:scaleX(0.9524);transform-origin:left center;">GBP77CHAS67777777777777</span>
<svg class="b" style="left:735px;top:1220.5px" width="35" height="24" preserveAspectRatio="none" viewBox="0 0 34 23"><rect width="34" height="23" fill="#0a4fb0"/><path d="M0 0 L34 23 M34 0 L0 23" stroke="#fff" stroke-width="4.6"/><path d="M0 0 L34 23 M34 0 L0 23" stroke="#d80027" stroke-width="1.6"/><path d="M17 0 V23 M0 11.5 H34" stroke="#fff" stroke-width="7.6"/><path d="M17 0 V23 M0 11.5 H34" stroke="#d80027" stroke-width="4.4"/></svg>
<span class="t" style="top:1248px;font-size:14px;line-height:20px;color:#b4cde3;left:653.16px;width:200px;text-align:center;transform:scaleX(0.9238);transform-origin:center center;">GBP</span>
</div>
</body>
</html>
